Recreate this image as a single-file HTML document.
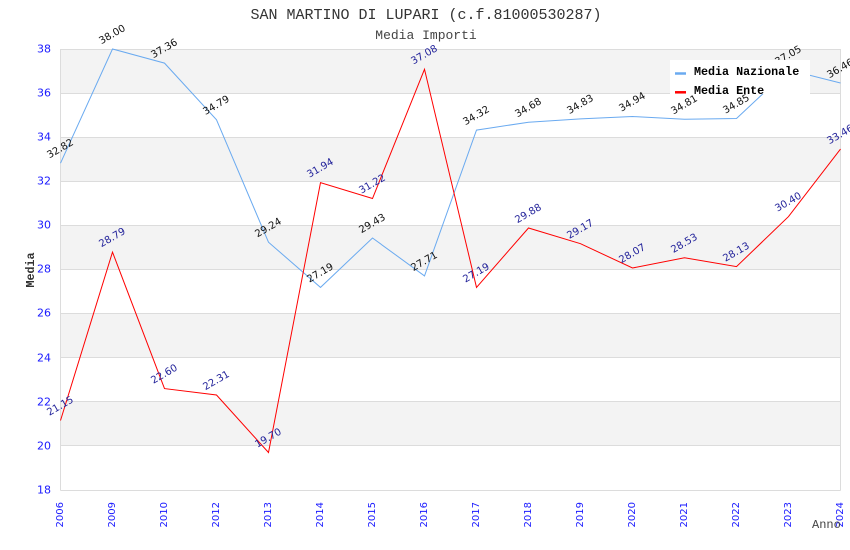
<!DOCTYPE html>
<html>
<head>
<meta charset="utf-8">
<style>
html,body{margin:0;padding:0;background:#fff;}
svg{display:block;}
.mono{font-family:"Liberation Mono","DejaVu Sans Mono",monospace;}
.sans{font-family:"DejaVu Sans","Liberation Sans",sans-serif;}
</style>
</head>
<body>
<svg width="850" height="550" viewBox="0 0 850 550" xmlns="http://www.w3.org/2000/svg">
  <rect x="0" y="0" width="850" height="550" fill="#fff"/>
  <!-- bands -->
  <g fill="#f3f3f3">
    <rect x="60.5" y="49" width="780" height="44.1"/>
    <rect x="60.5" y="137.2" width="780" height="44.1"/>
    <rect x="60.5" y="225.4" width="780" height="44.1"/>
    <rect x="60.5" y="313.6" width="780" height="44.1"/>
    <rect x="60.5" y="401.8" width="780" height="44.1"/>
  </g>
  <!-- gridlines -->
  <g stroke="#dcdcdc" stroke-width="1">
    <line x1="60.5" y1="49.5" x2="840.5" y2="49.5"/>
    <line x1="60.5" y1="93.5" x2="840.5" y2="93.5"/>
    <line x1="60.5" y1="137.5" x2="840.5" y2="137.5"/>
    <line x1="60.5" y1="181.5" x2="840.5" y2="181.5"/>
    <line x1="60.5" y1="225.5" x2="840.5" y2="225.5"/>
    <line x1="60.5" y1="269.5" x2="840.5" y2="269.5"/>
    <line x1="60.5" y1="313.5" x2="840.5" y2="313.5"/>
    <line x1="60.5" y1="357.5" x2="840.5" y2="357.5"/>
    <line x1="60.5" y1="401.5" x2="840.5" y2="401.5"/>
    <line x1="60.5" y1="445.5" x2="840.5" y2="445.5"/>
    <line x1="60.5" y1="490.5" x2="840.5" y2="490.5"/>
    <line x1="60.5" y1="49" x2="60.5" y2="490.5"/>
    <line x1="840.5" y1="49" x2="840.5" y2="490.5"/>
  </g>

  <!-- titles -->
  <text x="426" y="19" text-anchor="middle" class="mono" font-size="15" fill="#333">SAN MARTINO DI LUPARI (c.f.81000530287)</text>
  <text x="426" y="39" text-anchor="middle" class="mono" font-size="13" fill="#444">Media Importi</text>

  <!-- y tick labels -->
  <g class="sans" font-size="11" fill="#1a1aff" text-anchor="end" dominant-baseline="central">
    <text x="51" y="49">38</text>
    <text x="51" y="93">36</text>
    <text x="51" y="137">34</text>
    <text x="51" y="181">32</text>
    <text x="51" y="225">30</text>
    <text x="51" y="269">28</text>
    <text x="51" y="313">26</text>
    <text x="51" y="358">24</text>
    <text x="51" y="402">22</text>
    <text x="51" y="446">20</text>
    <text x="51" y="490">18</text>
  </g>

  <!-- y axis title -->
  <text transform="translate(31,270) rotate(-90)" text-anchor="middle" dominant-baseline="central" class="mono" font-size="11.7" font-weight="bold" fill="#333">Media</text>

  <!-- x tick labels -->
  <g class="sans" font-size="10" fill="#1a1aff" text-anchor="end" dominant-baseline="central">
    <text transform="translate(60.5,502) rotate(-90)">2006</text>
    <text transform="translate(112.5,502) rotate(-90)">2009</text>
    <text transform="translate(164.5,502) rotate(-90)">2010</text>
    <text transform="translate(216.5,502) rotate(-90)">2012</text>
    <text transform="translate(268.5,502) rotate(-90)">2013</text>
    <text transform="translate(320.5,502) rotate(-90)">2014</text>
    <text transform="translate(372.5,502) rotate(-90)">2015</text>
    <text transform="translate(424.5,502) rotate(-90)">2016</text>
    <text transform="translate(476.5,502) rotate(-90)">2017</text>
    <text transform="translate(528.5,502) rotate(-90)">2018</text>
    <text transform="translate(580.5,502) rotate(-90)">2019</text>
    <text transform="translate(632.5,502) rotate(-90)">2020</text>
    <text transform="translate(684.5,502) rotate(-90)">2021</text>
    <text transform="translate(736.5,502) rotate(-90)">2022</text>
    <text transform="translate(788.5,502) rotate(-90)">2023</text>
    <text transform="translate(840.5,502) rotate(-90)">2024</text>
  </g>
  <text x="812" y="528" class="mono" font-size="12" fill="#444">Anno</text>

  <!-- series Nazionale -->
  <polyline fill="none" stroke="#6aaaf0" stroke-width="1"
    points="60.5,163.2 112.5,49 164.5,63.1 216.5,119.8 268.5,242.2 320.5,287.4 372.5,238 424.5,275.9 476.5,130.1 528.5,122.2 580.5,118.9 632.5,116.5 684.5,119.3 736.5,118.5 788.5,69.9 840.5,83"/>
  <!-- series Ente -->
  <polyline fill="none" stroke="#ff0000" stroke-width="1"
    points="60.5,420.5 112.5,252.1 164.5,388.6 216.5,395 268.5,452.5 320.5,182.6 372.5,198.5 424.5,69.3 476.5,287.4 528.5,228 580.5,243.7 632.5,268 684.5,257.8 736.5,266.6 788.5,216.6 840.5,149.1"/>

  <!-- labels Nazionale -->
  <g class="sans" font-size="10" fill="#111" text-anchor="middle" dominant-baseline="central">
    <text transform="translate(60.5,149.2) rotate(-30)">32.82</text>
    <text transform="translate(112.5,35) rotate(-30)">38.00</text>
    <text transform="translate(164.5,49.1) rotate(-30)">37.36</text>
    <text transform="translate(216.5,105.8) rotate(-30)">34.79</text>
    <text transform="translate(268.5,228.2) rotate(-30)">29.24</text>
    <text transform="translate(320.5,273.4) rotate(-30)">27.19</text>
    <text transform="translate(372.5,224) rotate(-30)">29.43</text>
    <text transform="translate(424.5,261.9) rotate(-30)">27.71</text>
    <text transform="translate(476.5,116.1) rotate(-30)">34.32</text>
    <text transform="translate(528.5,108.2) rotate(-30)">34.68</text>
    <text transform="translate(580.5,104.9) rotate(-30)">34.83</text>
    <text transform="translate(632.5,102.5) rotate(-30)">34.94</text>
    <text transform="translate(684.5,105.3) rotate(-30)">34.81</text>
    <text transform="translate(736.5,104.5) rotate(-30)">34.85</text>
    <text transform="translate(788.5,55.9) rotate(-30)">37.05</text>
    <text transform="translate(840.5,69) rotate(-30)">36.46</text>
  </g>
  <!-- labels Ente -->
  <g class="sans" font-size="10" fill="#22229a" text-anchor="middle" dominant-baseline="central">
    <text transform="translate(60.5,406.5) rotate(-30)">21.15</text>
    <text transform="translate(112.5,238.1) rotate(-30)">28.79</text>
    <text transform="translate(164.5,374.6) rotate(-30)">22.60</text>
    <text transform="translate(216.5,381) rotate(-30)">22.31</text>
    <text transform="translate(268.5,438.5) rotate(-30)">19.70</text>
    <text transform="translate(320.5,168.6) rotate(-30)">31.94</text>
    <text transform="translate(372.5,184.5) rotate(-30)">31.22</text>
    <text transform="translate(424.5,55.3) rotate(-30)">37.08</text>
    <text transform="translate(476.5,273.4) rotate(-30)">27.19</text>
    <text transform="translate(528.5,214) rotate(-30)">29.88</text>
    <text transform="translate(580.5,229.7) rotate(-30)">29.17</text>
    <text transform="translate(632.5,254) rotate(-30)">28.07</text>
    <text transform="translate(684.5,243.8) rotate(-30)">28.53</text>
    <text transform="translate(736.5,252.6) rotate(-30)">28.13</text>
    <text transform="translate(788.5,202.6) rotate(-30)">30.40</text>
    <text transform="translate(840.5,135.1) rotate(-30)">33.46</text>
  </g>

  <!-- legend -->
  <rect x="670" y="60" width="140" height="34" fill="#fff"/>
  <line x1="675" y1="73.5" x2="686" y2="73.5" stroke="#6aaaf0" stroke-width="2.5"/>
  <line x1="675" y1="92.3" x2="686" y2="92.3" stroke="#ff0000" stroke-width="2.5"/>
  <text x="694" y="75" class="mono" font-size="11.7" font-weight="bold" fill="#000">Media Nazionale</text>
  <text x="694" y="94" class="mono" font-size="11.7" font-weight="bold" fill="#000">Media Ente</text>
</svg>
</body>
</html>
